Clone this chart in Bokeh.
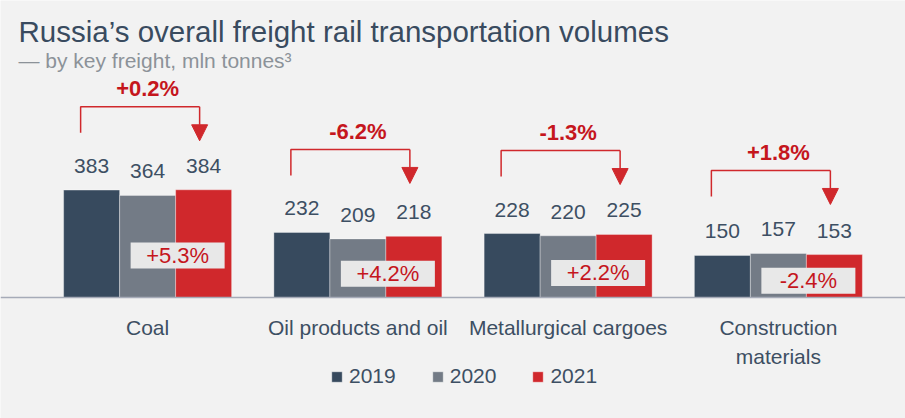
from bokeh.plotting import figure
from bokeh.models import (Range1d, ColumnDataSource, Label, Legend, LegendItem,
                          Arrow, NormalHead, FixedTicker)
from bokeh.transform import dodge
from bokeh.core.properties import value
from bokeh.embed import file_html
from bokeh.resources import INLINE

# ---------------- data ----------------
categories = ["Coal", "Oil products and oil", "Metallurgical cargoes", "Construction\nmaterials"]
years = ["2019", "2020", "2021"]
v2019 = [383, 232, 228, 150]
v2020 = [364, 209, 220, 157]
v2021 = [384, 218, 225, 153]
change_2019_2021 = ["+0.2%", "-6.2%", "-1.3%", "+1.8%"]
change_2020_2021 = ["+5.3%", "+4.2%", "+2.2%", "-2.4%"]
title_text = "Russia\u2019s overall freight rail transportation volumes"
subtitle_text = "\u2014 by key freight, mln tonnes\u00b3"

# ---------------- style ----------------
COLORS = ["#374a5e", "#737b86", "#d0282c"]
RED = "#d0282c"
RED_TEXT = "#c5161d"
TEXT = "#3d4f63"
BG = "#f2f2f2"
FONT = "Liberation Sans"

W, H = 905, 418
LEFT, RIGHT = 42, 22          # px outside the category area
BASE = 297                    # px from top to the axis line
PX_X = (W - LEFT - RIGHT) / 4.0
PX_Y = 0.2805
BAR_W = 56 / PX_X

p = figure(width=W, height=H, output_backend="svg", toolbar_location=None,
           x_range=Range1d(-LEFT / PX_X, 4 + RIGHT / PX_X),
           y_range=Range1d(-(H - BASE) / PX_Y, BASE / PX_Y),
           min_border=0)
p.background_fill_color = BG
p.border_fill_color = BG
p.outline_line_color = None
p.grid.visible = False
p.yaxis.visible = False

centers = [i + 0.5 for i in range(len(categories))]

src = ColumnDataSource(dict(xc=centers, v2019=v2019, v2020=v2020, v2021=v2021))
series = [v2019, v2020, v2021]
offsets = [-BAR_W, 0, BAR_W]
renderers = []
for yr, col, off, vals in zip(years, COLORS, offsets, series):
    key = "v" + yr
    r = p.vbar(x=dodge("xc", off), top=key, width=BAR_W, source=src,
               fill_color=col, line_color="white", line_alpha=0.35, line_width=1)
    renderers.append(r)
    lsrc = ColumnDataSource(dict(xc=centers, val=vals, text=[str(v) for v in vals]))
    p.text(x=dodge("xc", off), y="val", text="text", source=lsrc,
           y_offset=-24, text_align="center", text_baseline="middle",
           text_font=value(FONT), text_font_size="21px", text_color=TEXT)

# percent boxes (2020 -> 2021)
box_x = [c + 30 / PX_X for c in centers]
box_y = [0.39 * v for v in v2021]
bsrc = ColumnDataSource(dict(x=box_x, y=box_y, t=change_2020_2021))
p.rect(x="x", y="y", width=94 / PX_X, height=26 / PX_Y, source=bsrc,
       fill_color="#e8e8e8", line_color=None)
p.text(x="x", y="y", text="t", source=bsrc, text_align="center", text_baseline="middle",
       text_font=value(FONT), text_font_size="22px", text_color=RED_TEXT)

# brackets (2019 -> 2021)
tops = [max(a, b, c) + 83 / PX_Y for a, b, c in zip(v2019, v2020, v2021)]
left_x = [c - 67 / PX_X for c in centers]
right_x = [c + 52 / PX_X for c in centers]
xs = [[lx, lx, rx] for lx, rx in zip(left_x, right_x)]
ys = [[t - 26 / PX_Y, t, t] for t in tops]
p.multi_line(xs=xs, ys=ys, line_color=RED, line_width=1.5)
asrc = ColumnDataSource(dict(x0=right_x, y0=tops, x1=right_x,
                             y1=[t - 34 / PX_Y for t in tops]))
p.add_layout(Arrow(end=NormalHead(size=16, fill_color=RED, line_color=RED, line_width=1),
                   x_start="x0", y_start="y0", x_end="x1", y_end="y1", source=asrc,
                   line_color=RED, line_width=1.5))
p.text(x=centers, y=tops, text=change_2019_2021, y_offset=-18,
       text_align="center", text_baseline="middle", text_font=value(FONT),
       text_font_size="22px", text_font_style="bold", text_color=RED_TEXT)

# x axis (fixed at y = 0)
ax = p.xaxis[0]
ax.fixed_location = 0
ax.ticker = FixedTicker(ticks=centers)
ax.major_label_overrides = {c: lab for c, lab in zip(centers, categories)}
ax.axis_line_color = "#a6abb8"
ax.axis_line_width = 1.5
ax.major_tick_line_color = None
ax.minor_tick_line_color = None
ax.major_label_text_font = FONT
ax.major_label_text_font_size = "21px"
ax.major_label_text_color = TEXT
ax.major_label_standoff = 12
ax.major_label_text_line_height = 1.3

# legend
legend = Legend(items=[LegendItem(label=y, renderers=[r]) for y, r in zip(years, renderers)],
                orientation="horizontal", location=(330, 30),
                glyph_width=13, glyph_height=13, label_standoff=6, spacing=35,
                padding=0, margin=0, background_fill_alpha=0, border_line_alpha=0,
                label_text_font=FONT, label_text_font_size="21px", label_text_color=TEXT,
                label_height=21)
p.add_layout(legend)

# title / subtitle
p.add_layout(Label(x=18, y=H - 31, x_units="screen", y_units="screen", text=title_text,
                   text_font=FONT, text_font_size="29.5px", text_color="#394b5f",
                   text_baseline="alphabetic"))
p.add_layout(Label(x=18, y=H - 60, x_units="screen", y_units="screen", text=subtitle_text,
                   text_font=FONT, text_font_size="21px", text_color="#8c9299",
                   text_baseline="alphabetic"))

open("out.html", "w").write(file_html(p, INLINE))
